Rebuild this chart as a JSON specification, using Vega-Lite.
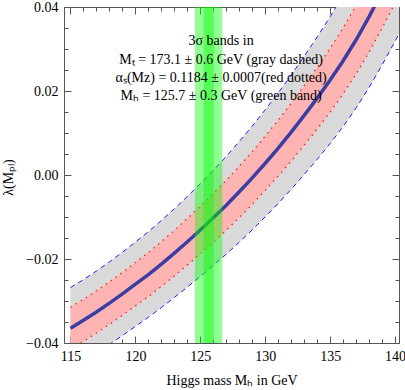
{
  "$schema": "https://vega.github.io/schema/vega-lite/v6.json",
  "width": 335,
  "height": 336,
  "autosize": "none",
  "padding": {"left": 64, "top": 7, "right": 6, "bottom": 47},
  "background": "white",
  "config": {
    "view": {"stroke": null},
    "style": {
      "guide-label": {"font": "Liberation Serif", "fontSize": 14, "fill": "black"},
      "guide-title": {"font": "Liberation Serif", "fontSize": 14, "fill": "black", "fontWeight": "normal"}
    },
    "axis": {
      "labelFont": "Liberation Serif", "labelFontSize": 14, "labelColor": "black",
      "titleFont": "Liberation Serif", "titleFontSize": 14, "titleFontWeight": "normal", "titleColor": "black",
      "domainColor": "#555", "tickColor": "#555", "grid": false, "domainWidth": 1, "tickWidth": 1
    }
  },
  "datasets": {
    "curves": [
      {"x": 115, "c": -0.0365, "gu": -0.0268, "gl": -0.0462, "ru": -0.0315, "rl": -0.0415},
      {"x": 116, "c": -0.0346, "gu": -0.0249, "gl": -0.0443, "ru": -0.0296, "rl": -0.0396},
      {"x": 117, "c": -0.0326, "gu": -0.02285, "gl": -0.04235, "ru": -0.02757, "rl": -0.03763},
      {"x": 118, "c": -0.0305, "gu": -0.02068, "gl": -0.04032, "ru": -0.02544, "rl": -0.03556},
      {"x": 119, "c": -0.0283, "gu": -0.01838, "gl": -0.03822, "ru": -0.0232, "rl": -0.0334},
      {"x": 120, "c": -0.026, "gu": -0.01596, "gl": -0.03604, "ru": -0.02084, "rl": -0.03116},
      {"x": 121, "c": -0.0237, "gu": -0.01351, "gl": -0.03389, "ru": -0.01847, "rl": -0.02893},
      {"x": 122, "c": -0.0212, "gu": -0.01084, "gl": -0.03156, "ru": -0.01588, "rl": -0.02652},
      {"x": 123, "c": -0.0186, "gu": -0.00804, "gl": -0.02916, "ru": -0.01318, "rl": -0.02402},
      {"x": 124, "c": -0.0159, "gu": -0.00511, "gl": -0.02669, "ru": -0.01037, "rl": -0.02143},
      {"x": 125, "c": -0.0131, "gu": -0.00205, "gl": -0.02415, "ru": -0.00745, "rl": -0.01875},
      {"x": 126, "c": -0.0102, "gu": 0.00113, "gl": -0.02153, "ru": -0.00441, "rl": -0.01599},
      {"x": 127, "c": -0.0072, "gu": 0.00444, "gl": -0.01884, "ru": -0.00126, "rl": -0.01314},
      {"x": 128, "c": -0.004, "gu": 0.00798, "gl": -0.01598, "ru": 0.0021, "rl": -0.0101},
      {"x": 129, "c": -0.0007, "gu": 0.01165, "gl": -0.01305, "ru": 0.00557, "rl": -0.00697},
      {"x": 130, "c": 0.0028, "gu": 0.01554, "gl": -0.00994, "ru": 0.00926, "rl": -0.00366},
      {"x": 131, "c": 0.0064, "gu": 0.01956, "gl": -0.00676, "ru": 0.01306, "rl": -0.00026},
      {"x": 132, "c": 0.0102, "gu": 0.0238, "gl": -0.0034, "ru": 0.01708, "rl": 0.00332},
      {"x": 133, "c": 0.0142, "gu": 0.02827, "gl": 0.00013, "ru": 0.02131, "rl": 0.00709},
      {"x": 134, "c": 0.0183, "gu": 0.03287, "gl": 0.00373, "ru": 0.02565, "rl": 0.01095},
      {"x": 135, "c": 0.0226, "gu": 0.0377, "gl": 0.0075, "ru": 0.0302, "rl": 0.015},
      {"x": 136, "c": 0.0272, "gu": 0.04285, "gl": 0.01155, "ru": 0.03507, "rl": 0.01933},
      {"x": 137, "c": 0.0322, "gu": 0.04843, "gl": 0.01597, "ru": 0.04035, "rl": 0.02405},
      {"x": 138, "c": 0.0377, "gu": 0.05454, "gl": 0.02086, "ru": 0.04614, "rl": 0.02926},
      {"x": 139, "c": 0.0437, "gu": 0.06118, "gl": 0.02622, "ru": 0.05244, "rl": 0.03496},
      {"x": 140, "c": 0.05, "gu": 0.06814, "gl": 0.03186, "ru": 0.05906, "rl": 0.04094},
      {"x": 140.3, "c": 0.052, "gu": 0.07034, "gl": 0.03366, "ru": 0.06116, "rl": 0.04284}
    ],
    "green": [
      {"lo": 124.58, "hi": 126.69},
      {"lo": 125.25, "hi": 126.04}
    ],
    "notes": [
      {"x": 126.6, "y": 0.0318, "t": "3σ bands in"},
      {"x": 126.6, "y": 0.0274, "t": "Mₜ = 173.1 ± 0.6 GeV (gray dashed)"},
      {"x": 126.6, "y": 0.023, "t": "αₛ(Mᴢ) = 0.1184 ± 0.0007(red dotted)"},
      {"x": 126.6, "y": 0.0187, "t": "Mₕ = 125.7 ± 0.3 GeV (green band)"}
    ]
  },
  "resolve": {"axis": {"x": "independent", "y": "independent"}},
  "layer": [
    {
      "data": {"name": "curves"},
      "mark": {"type": "area", "color": "#d9d9d9", "clip": true},
      "encoding": {
        "x": {"field": "x", "type": "quantitative",
          "scale": {"domain": [114.5, 140.3], "nice": false, "zero": false},
          "axis": {"orient": "bottom", "values": [115, 120, 125, 130, 135, 140], "tickSize": -7, "labelPadding": 13,
            "labelFont": "Liberation Serif", "labelFontSize": 14,
            "title": "Higgs mass Mₕ in GeV", "titleY": 37, "titleBaseline": "middle"}},
        "y": {"field": "gl", "type": "quantitative",
          "scale": {"domain": [-0.04, 0.04], "nice": false, "zero": false},
          "axis": {"orient": "left", "values": [-0.04, -0.02, 0, 0.02, 0.04], "tickSize": -7, "labelPadding": 13,
            "labelFont": "Liberation Serif", "labelFontSize": 14,
            "labelExpr": "replace(format(datum.value, '.2f'), '-', '−')",
            "title": "λ(Mₚₗ)", "titleX": -56, "titleY": 170, "titleBaseline": "middle", "titleAngle": -90}},
        "y2": {"field": "gu"}
      }
    },
    {
      "data": {"name": "curves"},
      "mark": {"type": "area", "color": "#ffb4b4", "clip": true},
      "encoding": {
        "x": {"field": "x", "type": "quantitative",
          "axis": {"orient": "top", "values": [115, 120, 125, 130, 135, 140], "tickSize": -7, "labels": false, "title": null}},
        "y": {"field": "rl", "type": "quantitative",
          "axis": {"orient": "right", "values": [-0.04, -0.02, 0, 0.02, 0.04], "tickSize": -7, "labels": false, "title": null}},
        "y2": {"field": "ru"}
      }
    },
    {
      "data": {"name": "curves"},
      "mark": {"type": "line", "color": "#2020ff", "strokeWidth": 1, "strokeDash": [5, 4], "clip": true},
      "encoding": {
        "x": {"field": "x", "type": "quantitative",
          "axis": {"orient": "bottom", "values": [116, 117, 118, 119, 121, 122, 123, 124, 126, 127, 128, 129, 131, 132, 133, 134, 136, 137, 138, 139], "tickSize": -4, "labels": false, "domain": false, "title": null}},
        "y": {"field": "gu", "type": "quantitative",
          "axis": {"orient": "left", "values": [-0.035, -0.03, -0.025, -0.015, -0.01, -0.005, 0.005, 0.01, 0.015, 0.025, 0.03, 0.035], "tickSize": -4, "labels": false, "domain": false, "title": null}}
      }
    },
    {
      "data": {"name": "curves"},
      "mark": {"type": "line", "color": "#2020ff", "strokeWidth": 1, "strokeDash": [5, 4], "clip": true},
      "encoding": {
        "x": {"field": "x", "type": "quantitative",
          "axis": {"orient": "top", "values": [116, 117, 118, 119, 121, 122, 123, 124, 126, 127, 128, 129, 131, 132, 133, 134, 136, 137, 138, 139], "tickSize": -4, "labels": false, "domain": false, "title": null}},
        "y": {"field": "gl", "type": "quantitative",
          "axis": {"orient": "right", "values": [-0.035, -0.03, -0.025, -0.015, -0.01, -0.005, 0.005, 0.01, 0.015, 0.025, 0.03, 0.035], "tickSize": -4, "labels": false, "domain": false, "title": null}}
      }
    },
    {
      "data": {"name": "curves"},
      "mark": {"type": "line", "color": "#ff2020", "strokeWidth": 1.3, "strokeDash": [1.5, 4.5], "clip": true},
      "encoding": {
        "x": {"field": "x", "type": "quantitative", "axis": null},
        "y": {"field": "ru", "type": "quantitative", "axis": null}
      }
    },
    {
      "data": {"name": "curves"},
      "mark": {"type": "line", "color": "#ff2020", "strokeWidth": 1.3, "strokeDash": [1.5, 4.5], "clip": true},
      "encoding": {
        "x": {"field": "x", "type": "quantitative", "axis": null},
        "y": {"field": "rl", "type": "quantitative", "axis": null}
      }
    },
    {
      "data": {"name": "curves"},
      "mark": {"type": "line", "color": "#3a3ea2", "strokeWidth": 3.5, "clip": true},
      "encoding": {
        "x": {"field": "x", "type": "quantitative", "axis": null},
        "y": {"field": "c", "type": "quantitative", "axis": null}
      }
    },
    {
      "data": {"name": "green"},
      "mark": {"type": "rect", "color": "#00ff00", "opacity": 0.42, "clip": true},
      "encoding": {
        "x": {"field": "lo", "type": "quantitative", "axis": null},
        "x2": {"field": "hi"}
      }
    },
    {
      "mark": {"type": "rule", "color": "#555", "strokeWidth": 1},
      "encoding": {
        "y": {"datum": 0, "type": "quantitative", "axis": null}
      }
    },
    {
      "data": {"name": "notes"},
      "mark": {"type": "text", "font": "Liberation Serif", "fontSize": 14, "color": "black", "align": "center", "baseline": "middle"},
      "encoding": {
        "x": {"field": "x", "type": "quantitative", "axis": null},
        "y": {"field": "y", "type": "quantitative", "axis": null},
        "text": {"field": "t"}
      }
    }
  ]
}
